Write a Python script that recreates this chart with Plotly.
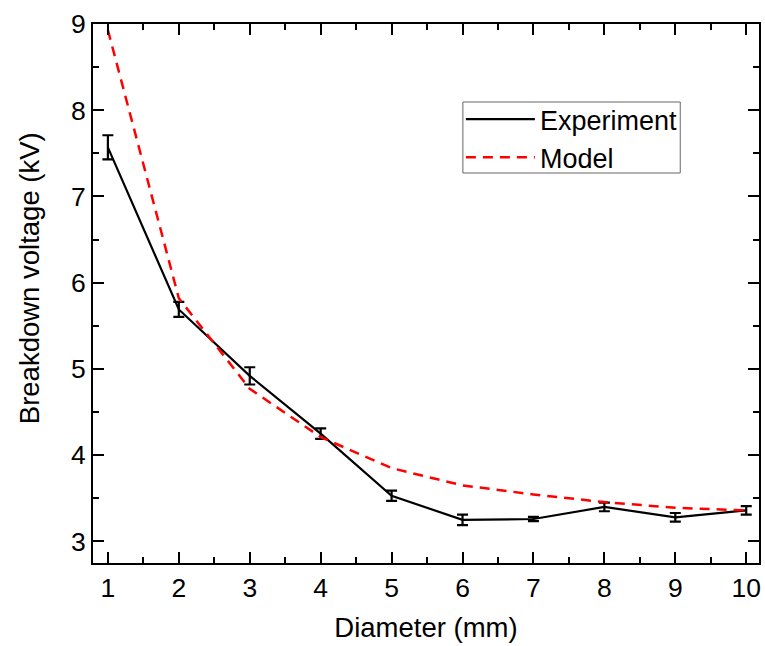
import plotly.graph_objects as go

diameter = [1, 2, 3, 4, 5, 6, 7, 8, 9, 10]
experiment = [7.57, 5.69, 4.92, 4.25, 3.53, 3.25, 3.26, 3.40, 3.28, 3.36]
experiment_err = [0.14, 0.087, 0.10, 0.06, 0.06, 0.06, 0.025, 0.05, 0.05, 0.05]
model = [8.93, 5.82, 4.77, 4.21, 3.85, 3.65, 3.545, 3.456, 3.39, 3.36]

FONT = "Liberation Sans, Arial, sans-serif"

# plot area in pixels (for placing decorations)
L, R, T, B = 93, 761, 24, 563
PW, PH = R - L, B - T

fig = go.Figure()
fig.add_trace(go.Scatter(
    x=diameter, y=experiment, name="Experiment", mode="lines",
    line=dict(color="black", width=2.2),
    error_y=dict(type="data", array=experiment_err, visible=True,
                 color="black", thickness=2.2, width=5.5),
))
fig.add_trace(go.Scatter(
    x=diameter, y=model, name="Model", mode="lines",
    line=dict(color="#ff0000", width=2.5, dash="10px,7px"),
))

axis_common = dict(
    showline=True, linecolor="black", linewidth=2, mirror="ticks",
    ticks="inside", ticklen=11, tickwidth=2, tickcolor="black",
    showgrid=False, zeroline=False,
    tickfont=dict(family=FONT, size=26.5, color="black"),
    minor=dict(ticks="inside", ticklen=6, tickwidth=2, tickcolor="black", dtick=0.5),
)

fig.update_xaxes(range=[0.79, 10.18], dtick=1, tick0=1, **axis_common,
                 title=dict(text="Diameter (mm)", font=dict(family=FONT, size=27.5, color="black"),
                            standoff=16))
fig.update_yaxes(range=[2.75, 9], dtick=1, tick0=3, **axis_common)

fig.add_annotation(
    text="Breakdown voltage (kV)", textangle=-90,
    xref="paper", yref="paper",
    x=(29 - L) / PW, y=(B - 278) / PH, xanchor="center", yanchor="middle",
    showarrow=False, font=dict(family=FONT, size=27.5, color="black"),
)

# legend frame
fig.add_shape(type="rect", xref="paper", yref="paper",
              x0=(464 - L) / PW, x1=(682 - L) / PW,
              y0=(B - 173) / PH, y1=(B - 102) / PH,
              line=dict(color="#666666", width=1), fillcolor="rgba(0,0,0,0)")

fig.update_layout(
    width=765, height=646,
    margin=dict(l=L, r=765 - R, t=T, b=646 - B),
    plot_bgcolor="white", paper_bgcolor="white",
    font=dict(family=FONT, color="black"),
    showlegend=True,
    legend=dict(x=(462 - L) / PW, y=(B - 95) / PH, xanchor="left", yanchor="top",
                bgcolor="rgba(0,0,0,0)", borderwidth=0,
                font=dict(family=FONT, size=27, color="black"),
                itemwidth=69, tracegroupgap=0),
)

fig.write_html("out.html")
